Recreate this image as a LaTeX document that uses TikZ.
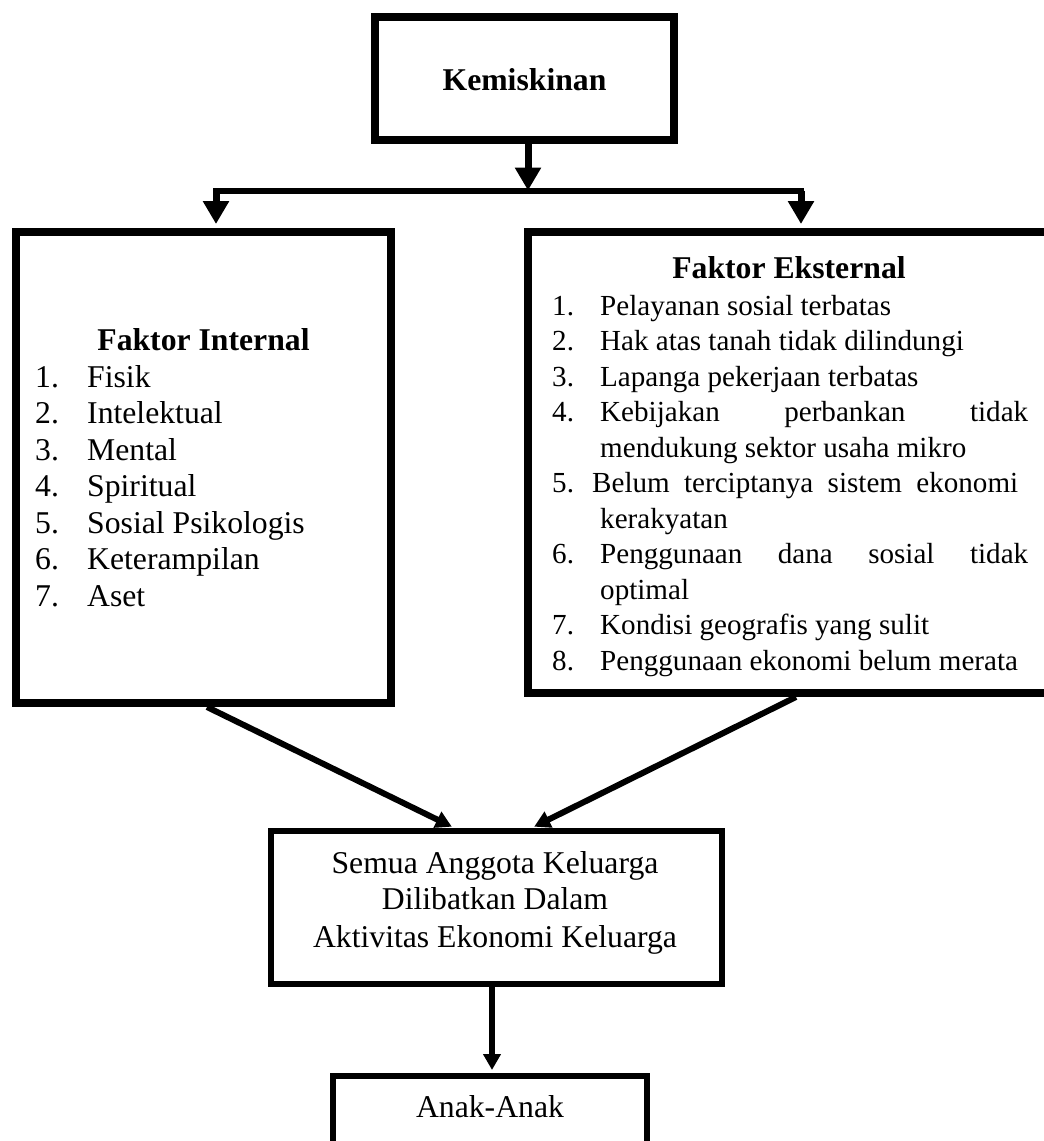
\documentclass[tikz,border=0pt]{standalone}
\usepackage{fontspec}
\setmainfont{Liberation Serif}
\usetikzlibrary{arrows.meta}
\begin{document}
\begin{tikzpicture}[x=1pt,y=-1pt,
  bigbox/.style={draw, line width=8pt, inner sep=0pt},
  smallbox/.style={draw, line width=6pt, inner sep=0pt},
  lbl/.style={inner sep=0pt, font=\fontsize{31.7}{36}\selectfont},
  sml/.style={inner sep=0pt, font=\fontsize{29.1}{34}\selectfont},
  bigarrow/.style={line width=7pt, -{Triangle[width=25pt,length=23pt]}},
  smallarrow/.style={line width=6pt, -{Triangle[width=17pt,length=16pt]}},
  barline/.style={line width=6pt, line cap=rect}
]
\useasboundingbox (0,0) rectangle (1044,1141);
\fill[white] (0,0) rectangle (1044,1141);
\clip (0,0) rectangle (1044,1141);

% boxes
\node[bigbox, minimum width=299pt, minimum height=123pt] (kem) at (524.5,78.5) {};
\node[bigbox, minimum width=375pt, minimum height=471pt] (intl) at (203.5,467.5) {};
\node[bigbox, minimum width=542pt, minimum height=461pt] (ext) at (799,462.5) {};
\node[smallbox, minimum width=451pt, minimum height=153pt] (mid) at (496.5,907.5) {};
\node[smallbox, minimum width=314pt, minimum height=110pt] (bot) at (490,1131) {};

% connectors
\coordinate (bar) at (528,190.5);
\coordinate (barL) at (216,190.5);
\coordinate (barR) at (801,190.5);
\draw[barline] (barL) -- (barR);
\draw[bigarrow] (kem.south -| bar) -- (bar);
\draw[bigarrow, shorten >=4pt] (barL) -- (barL |- intl.north);
\draw[bigarrow, shorten >=4pt] (barR) -- (barR |- ext.north);
\draw[smallarrow, shorten >=3pt] ([xshift=3.5pt]intl.south) -- ([xshift=-42pt]mid.north);
\draw[smallarrow, shorten >=3pt] ([xshift=-3pt]ext.south) -- ([xshift=35pt]mid.north);
\draw[smallarrow, shorten >=3pt] ([xshift=-4.5pt]mid.south) -- ([xshift=2pt]bot.north);

% texts
\node[lbl, anchor=base] (kemt) at (524.5,90.7) {\bfseries Kemiskinan};

\node[lbl, anchor=base] (ti) at (203.5,350) {\bfseries Faktor Internal};
\foreach \t [count=\k] in {Fisik,Intelektual,Mental,Spiritual,Sosial Psikologis,Keterampilan,Aset} {
  \pgfmathsetmacro\yy{387+36.5*(\k-1)}
  \node[lbl, anchor=base west] (inum\k) at (35,\yy) {\k.};
  \node[lbl, anchor=base west] (itxt\k) at (87,\yy) {\t};
}

\node[lbl, anchor=base] (te) at (789,278) {\bfseries Faktor Eksternal};
\node[sml, anchor=base west] (en1) at (552,315) {1.};
\node[sml, anchor=base west] (et1) at (600,315) {Pelayanan sosial terbatas};
\node[sml, anchor=base west] (en2) at (552,350.5) {2.};
\node[sml, anchor=base west] (et2) at (600,350.5) {Hak atas tanah tidak dilindungi};
\node[sml, anchor=base west] (en3) at (552,386) {3.};
\node[sml, anchor=base west] (et3) at (600,386) {Lapanga pekerjaan terbatas};
\node[sml, anchor=base west] (en4) at (552,421.5) {4.};
\node[sml, anchor=base west] (et4) at (600,421.5) {\makebox[428pt][s]{Kebijakan perbankan tidak}};
\node[sml, anchor=base west] (et4b) at (600,457) {mendukung sektor usaha mikro};
\node[sml, anchor=base west] (en5) at (552,492.5) {5.};
\node[sml, anchor=base west] (et5) at (592,492.5) {\makebox[426pt][s]{Belum terciptanya sistem ekonomi}};
\node[sml, anchor=base west] (et5b) at (600,528) {kerakyatan};
\node[sml, anchor=base west] (en6) at (552,563.5) {6.};
\node[sml, anchor=base west] (et6) at (600,563.5) {\makebox[428pt][s]{Penggunaan dana sosial tidak}};
\node[sml, anchor=base west] (et6b) at (600,599) {optimal};
\node[sml, anchor=base west] (en7) at (552,634.5) {7.};
\node[sml, anchor=base west] (et7) at (600,634.5) {Kondisi geografis yang sulit};
\node[sml, anchor=base west] (en8) at (552,670) {8.};
\node[sml, anchor=base west] (et8) at (600,670) {Penggunaan ekonomi belum merata};

\node[lbl, anchor=base] (m1) at (495,873) {Semua Anggota Keluarga};
\node[lbl, anchor=base] (m2) at (495,909) {Dilibatkan Dalam};
\node[lbl, anchor=base] (m3) at (495,947) {Aktivitas Ekonomi Keluarga};

\node[lbl, anchor=base] (bt) at (490,1117) {Anak-Anak};
\end{tikzpicture}
\end{document}
